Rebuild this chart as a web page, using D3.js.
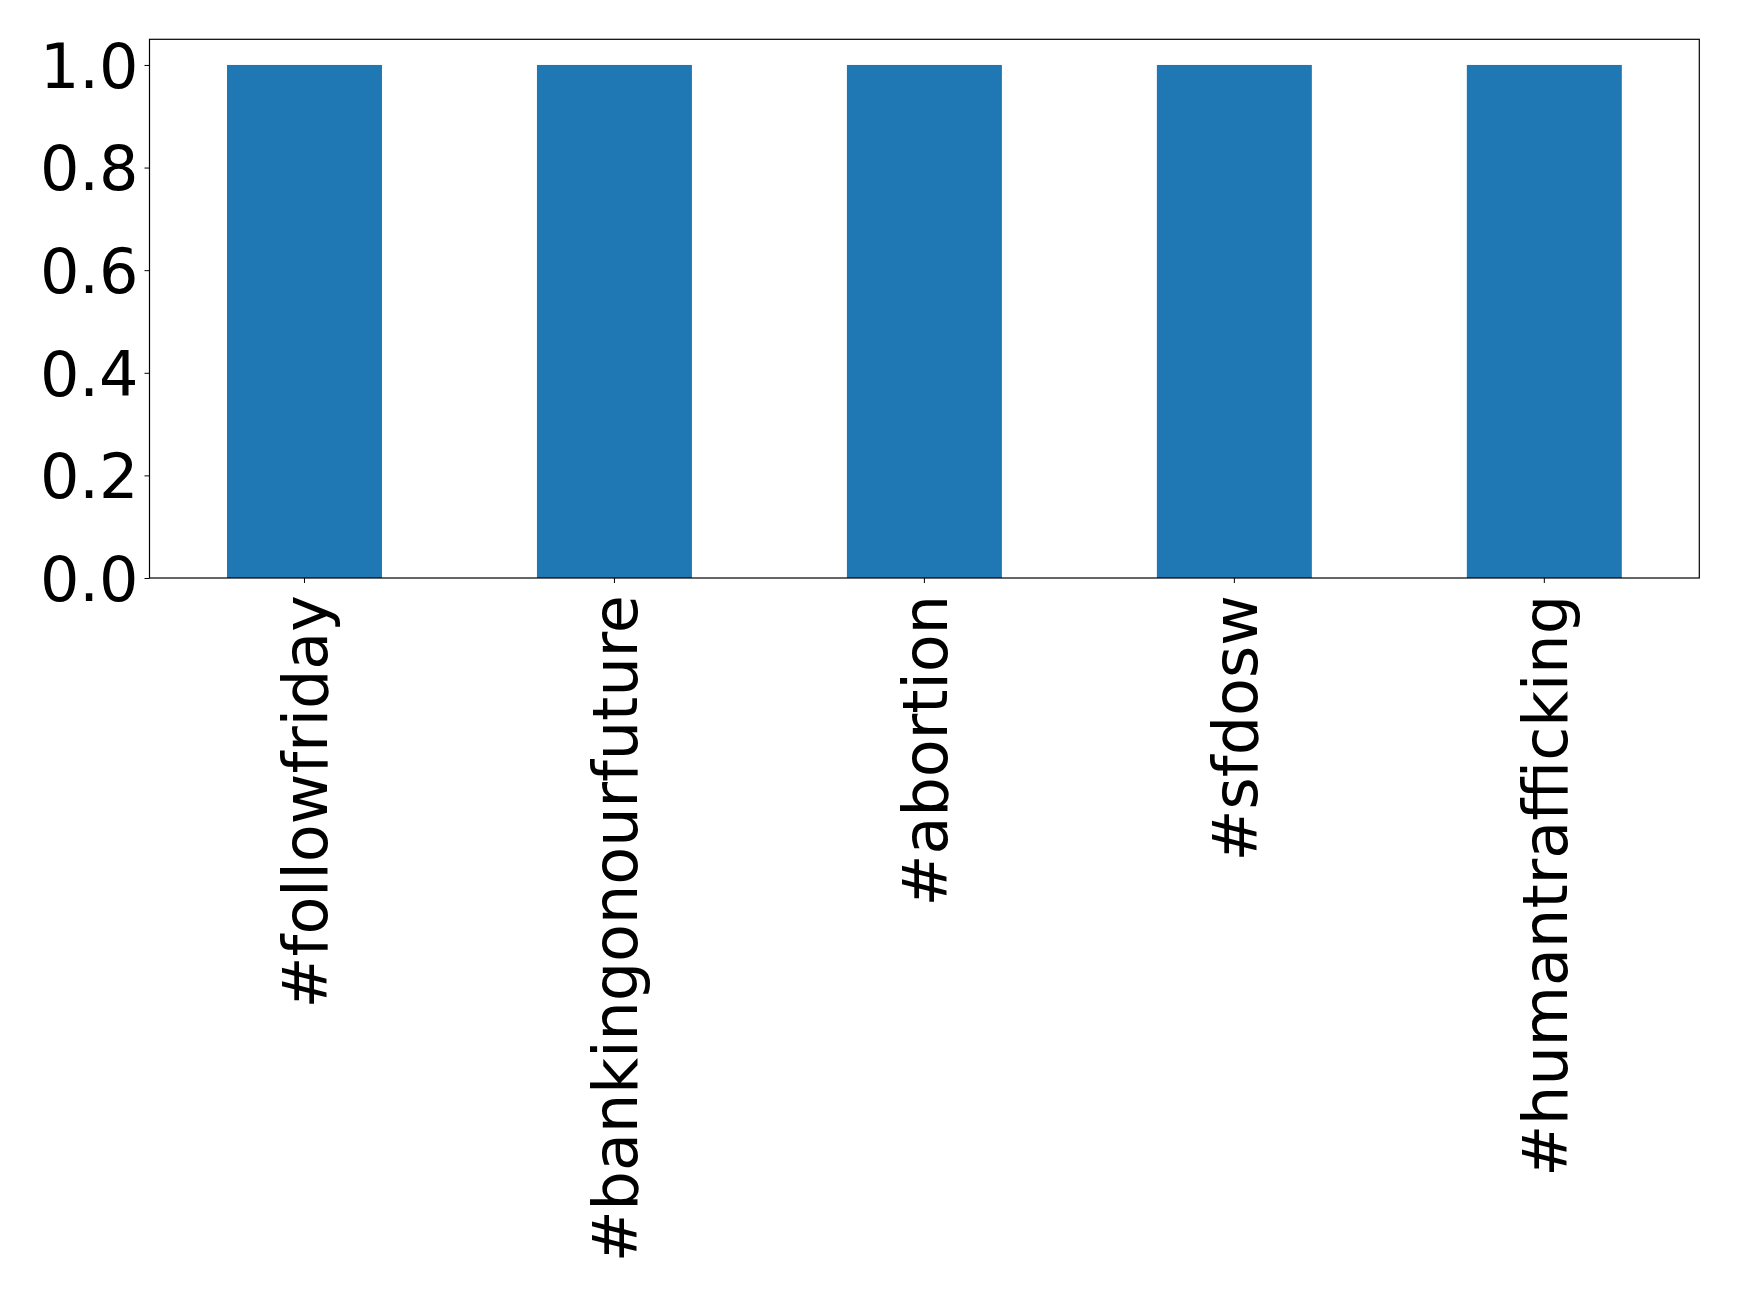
<!DOCTYPE html>
<html><head><meta charset="utf-8">
<script src="https://cdn.jsdelivr.net/npm/d3@7"></script>
<style>body{margin:0;background:#fff}svg{display:block}</style>
</head><body>
<script>
const categories = ["#followfriday","#bankingonourfuture","#abortion","#sfdosw","#humantrafficking"];
const values = [1,1,1,1,1];
const yTicks = [0,0.2,0.4,0.6,0.8,1.0];

const W=1739,H=1300;
const m={left:149.5,top:39.3,right:1739-1699.3,bottom:1300-578};
const svg=d3.select("body").append("svg").attr("width",W).attr("height",H);
const iw=W-m.left-m.right, ih=H-m.top-m.bottom;
const g=svg.append("g").attr("transform",`translate(${m.left},${m.top})`);
const x=d3.scaleBand().domain(categories).range([0,iw]).paddingInner(0.5).paddingOuter(0.25);
const y=d3.scaleLinear().domain([0,1.05]).range([ih,0]);

g.selectAll("rect.bar").data(values).join("rect").attr("class","bar")
 .attr("x",(d,i)=>x(categories[i])).attr("width",x.bandwidth())
 .attr("y",d=>y(d)).attr("height",d=>ih-y(d)).attr("fill","#1f77b4");

const font='"DejaVu Sans", sans-serif';
const fs=62;
const ya=g.append("g").call(d3.axisLeft(y).tickValues(yTicks).tickFormat(d3.format(".1f")).tickSize(5).tickPadding(6));
ya.select(".domain").remove();
ya.selectAll("text").attr("font-family",font).attr("font-size",fs).attr("fill","#000").attr("dy","0.36em");
ya.selectAll("line").attr("stroke","#000");

const xa=g.append("g").attr("transform",`translate(0,${ih})`).call(d3.axisBottom(x).tickSize(5).tickPadding(0));
xa.select(".domain").remove();
xa.selectAll("line").attr("stroke","#000");
xa.selectAll("text").attr("font-family",font).attr("font-size",fs).attr("fill","#000")
  .attr("transform","rotate(-90)").attr("text-anchor","end").attr("x",-17).attr("y",0).attr("dy","0.36em");

g.append("rect").attr("width",iw).attr("height",ih).attr("fill","none").attr("stroke","#000").attr("stroke-width",1.2);
</script>
</body></html>
